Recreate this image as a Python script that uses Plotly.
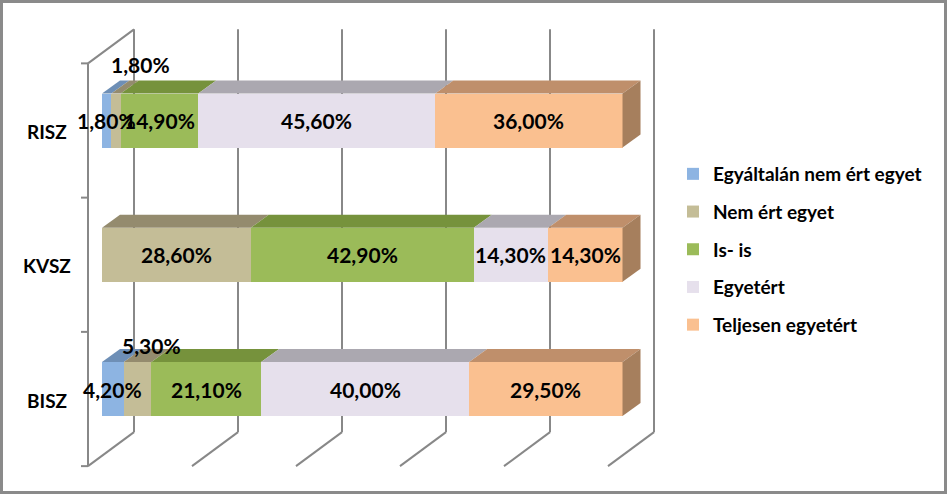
import plotly.graph_objects as go

# ---------------- data ----------------
categories = ["BISZ", "KVSZ", "RISZ"]
series_names = ["Egyáltalán nem ért egyet", "Nem ért egyet", "Is- is", "Egyetért", "Teljesen egyetért"]
egyaltalan_nem = [4.2, 0.0, 1.8]
nem_ert_egyet = [5.3, 28.6, 1.8]
is_is = [21.1, 42.9, 14.9]
egyetert = [40.0, 14.3, 45.6]
teljesen_egyetert = [29.5, 14.3, 36.0]
grid_ticks = [0, 20, 40, 60, 80, 100]

series_values = [egyaltalan_nem, nem_ert_egyet, is_is, egyetert, teljesen_egyetert]

# ---------------- style ----------------
front_colors = ["#8DB4E2", "#C4BD97", "#9BBB59", "#E6E0EC", "#FAC090"]
top_colors = ["#6E8FB6", "#948B6E", "#76923C", "#ABA8B0", "#BF8F6B"]
side_colors = ["#5C7898", "#7B735B", "#627A32", "#8F8C93", "#A67F5D"]
wall_color = "#888888"
FONT = "Lato"

W, H = 947, 494
X0_PX, PXX = 102, 5.2        # pixel of 0 %, pixels per %
Y0_PX, PXY = 389, 134.25     # pixel of first category centre, pixels per category
BW = 54 / PXY                # bar thickness (category units)
BDX, BDY = 18 / PXX, 13 / PXY    # bar depth
FDX, FDY = -14 / PXX, -10 / PXY  # front plane offset
DDX, DDY = 46 / PXX, 34 / PXY    # full depth of the box

# manual label offsets (series index, category index) -> (xshift, yshift) px
label_offsets = {(1, 2): (24, 56), (1, 0): (14, 44)}

fig = go.Figure()
for i, (name, vals) in enumerate(zip(series_names, series_values)):
    fig.add_trace(go.Bar(
        y=list(range(len(categories))), x=vals, orientation="h", name=name,
        width=BW, marker=dict(color=front_colors[i], line=dict(width=0)),
        legendgroup=f"g{i}", hoverinfo="x+name",
    ))

shapes = []
line_style = dict(color=wall_color, width=2)
# walls and gridlines (behind bars)
yf = -0.5 + FDY
yT = len(categories) - 0.5 + FDY
xf = 0 + FDX
for g in grid_ticks:
    shapes.append(dict(type="line", xref="x", yref="y", layer="below",
                       x0=g + FDX + DDX, x1=g + FDX + DDX, y0=yf + DDY, y1=yT + DDY, line=line_style))
    shapes.append(dict(type="line", xref="x", yref="y", layer="below",
                       x0=g + FDX, x1=g + FDX + DDX, y0=yf, y1=yf + DDY, line=line_style))
shapes.append(dict(type="line", xref="x", yref="y", layer="below",
                   x0=xf, x1=xf, y0=yf, y1=yT, line=line_style))
shapes.append(dict(type="line", xref="x", yref="y", layer="below",
                   x0=xf, x1=xf + DDX, y0=yT, y1=yT + DDY, line=line_style))
for k in range(len(categories) + 1):
    yy = k - 0.5 + FDY
    shapes.append(dict(type="line", xref="x", yref="y", layer="below",
                       x0=xf - 7 / PXX, x1=xf, y0=yy, y1=yy, line=line_style))

# 3D top and side faces of the bars
annotations = []
for j, cat in enumerate(categories):
    cum = 0.0
    yt = j + BW / 2
    yb = j - BW / 2
    last_i = max(i for i in range(len(series_values)) if series_values[i][j] > 0)
    for i, vals in enumerate(series_values):
        v = vals[j]
        if v <= 0:
            continue
        x0, x1 = cum, cum + v
        shapes.append(dict(type="path", xref="x", yref="y", layer="above",
                           path=f"M {x0},{yt} L {x1},{yt} L {x1 + BDX},{yt + BDY} L {x0 + BDX},{yt + BDY} Z",
                           fillcolor=top_colors[i], line=dict(width=0)))
        if i == last_i:
            shapes.append(dict(type="path", xref="x", yref="y", layer="above",
                               path=f"M {x1},{yt} L {x1 + BDX},{yt + BDY} L {x1 + BDX},{yb + BDY} L {x1},{yb} Z",
                               fillcolor=side_colors[i], line=dict(width=0)))
        xs, ys = label_offsets.get((i, j), (0, 0))
        annotations.append(dict(
            x=(x0 + x1) / 2, y=j, xref="x", yref="y", showarrow=False,
            text=f"{v:.2f}".replace(".", ",") + "%", xshift=xs, yshift=ys,
            font=dict(family=FONT, size=21, color="#000000", weight="bold"),
        ))
        cum = x1
    annotations.append(dict(
        x=47 / W, xref="paper", y=j, yref="y", yshift=-11, showarrow=False,
        text=cat, xanchor="center",
        font=dict(family=FONT, size=19, color="#000000", weight="bold"),
    ))

# outer frame
shapes.append(dict(type="rect", xref="paper", yref="paper", layer="above",
                   x0=1.5 / W, x1=(W - 1.5) / W, y0=1.5 / H, y1=(H - 1.5) / H,
                   line=dict(color="#8A8A8A", width=3), fillcolor="rgba(0,0,0,0)"))

fig.update_layout(
    width=W, height=H, autosize=False,
    margin=dict(l=0, r=0, t=0, b=0),
    paper_bgcolor="white", plot_bgcolor="white",
    barmode="stack", bargap=0,
    xaxis=dict(range=[-X0_PX / PXX, (W - X0_PX) / PXX], visible=False, fixedrange=True),
    yaxis=dict(range=[(Y0_PX - H) / PXY, Y0_PX / PXY], visible=False, fixedrange=True),
    shapes=shapes, annotations=annotations,
    showlegend=True,
    legend=dict(x=673 / W, xanchor="left", y=1 - 155 / H, yanchor="top",
                traceorder="grouped", tracegroupgap=10,
                font=dict(family=FONT, size=19, color="#000000", weight="bold"),
                bgcolor="rgba(0,0,0,0)"),
    font=dict(family=FONT),
)

fig.write_html("out.html", config={"displayModeBar": False},
               post_script="document.body.style.margin='0';document.body.style.padding='0';")
